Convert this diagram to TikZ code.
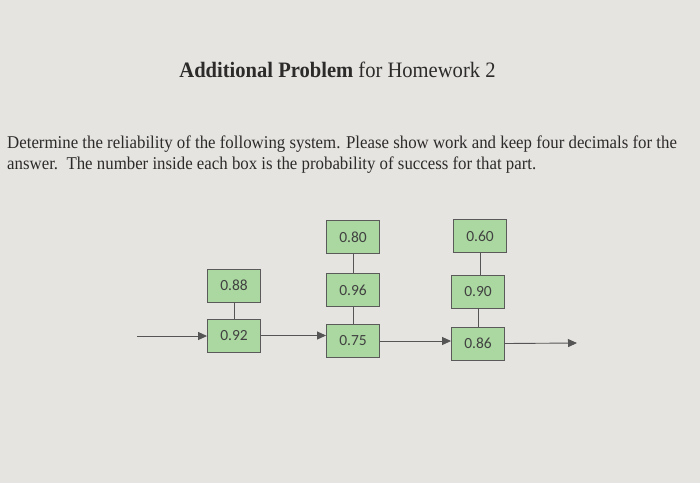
\documentclass[tikz,border=0pt]{standalone}
\usepackage{fontspec}
\setmainfont{Liberation Serif}[FakeStretch=0.935]
\newfontfamily\boxfont{Carlito}
\usetikzlibrary{arrows.meta}
\definecolor{bgc}{RGB}{230,228,225}
\definecolor{boxfill}{RGB}{170,216,160}
\definecolor{boxline}{RGB}{90,90,90}
\definecolor{txt}{RGB}{45,42,42}
\definecolor{wire}{RGB}{85,85,85}
\tikzset{
  part/.style={draw=boxline, fill=boxfill, line width=0.9pt, minimum width=53pt, minimum height=33pt, inner sep=0pt, font=\boxfont\fontsize{15.5}{17}\selectfont, text={rgb,255:red,65;green,65;blue,65}},
  flow/.style={draw=wire, line width=0.9pt, -{Triangle[length=9pt,width=8pt]}},
  link/.style={draw=wire, line width=0.9pt},
  caption/.style={anchor=base west, inner sep=0pt, text=txt}
}
\begin{document}
\begin{tikzpicture}[x=1pt,y=-1pt]
\fill[bgc] (0,0) rectangle (700,483);
\useasboundingbox (0,0) rectangle (700,483);
\node[anchor=base, inner sep=0pt, text=txt, font=\fontsize{22}{26}\selectfont] (title) at (337.5,77) {\textbf{Additional Problem} for Homework 2};
\node[caption, font=\fontsize{18}{21}\selectfont] (line1) at (7,148.3) {Determine the reliability of the following system. Please show work and keep four decimals for the};
\node[caption, font=\fontsize{18}{21}\selectfont] (line2) at (7,169.3) {answer.\ \ The number inside each box is the probability of success for that part.};
\node[part] (b88) at (234,285.5) {0.88};
\node[part] (b92) at (234,335.5) {0.92};
\node[part] (b80) at (353,237) {0.80};
\node[part] (b96) at (353,290) {0.96};
\node[part] (b75) at (353,341) {0.75};
\node[part] (b60) at (480,236) {0.60};
\node[part] (b90) at (478,291.5) {0.90};
\node[part] (b86) at (478,343.5) {0.86};
\coordinate (in) at (137,336);
\coordinate (out) at (577,343);
\draw[link] (b88) -- (b92);
\draw[link] (b80) -- (b96);
\draw[link] (b96) -- (b75);
\draw[link] (b60.south) -- (b90.north -| b60.south);
\draw[link] (b90) -- (b86);
\draw[flow] (in) -- (in -| b92.west);
\draw[flow] (b92.east) -- (b92.east -| b75.west);
\draw[flow] (b75.east) -- (b75.east -| b86.west);
\draw[flow] (b86.east) -- (out);
\end{tikzpicture}
\end{document}
